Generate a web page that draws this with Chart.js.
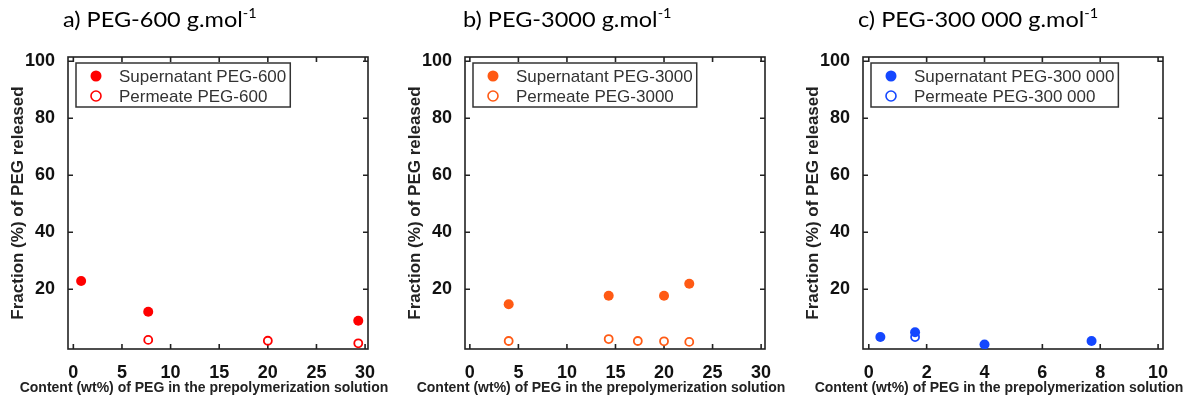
<!DOCTYPE html>
<html>
<head>
<meta charset="utf-8">
<script src="https://cdn.jsdelivr.net/npm/chart.js@4.4.1/dist/chart.umd.min.js"></script>
<style>
  html, body { margin:0; padding:0; background:#fff; }
  body { width:1196px; height:401px; position:relative; overflow:hidden; }
  .panel { position:absolute; top:0; width:400px; height:401px; }
  .title { position:absolute; top:6px; font-family:Lato, "Open Sans", sans-serif; font-size:21px; color:#000;
           white-space:nowrap; transform:scaleX(1.12); transform-origin:left top; line-height:26px; z-index:2; }
  .title sup { font-size:13px; vertical-align:9px; line-height:0; }
</style>
</head>
<body>
<div class="title" style="left:63px">a) PEG-600 g.mol<sup>-1</sup></div>
<div class="title" style="left:463px">b) PEG-3000 g.mol<sup>-1</sup></div>
<div class="title" style="left:858px">c) PEG-300 000 g.mol<sup>-1</sup></div>
<div class="panel" style="left:0px"><canvas id="ca" width="400" height="401"></canvas></div>
<div class="panel" style="left:397px"><canvas id="cb" width="400" height="401"></canvas></div>
<div class="panel" style="left:795px"><canvas id="cc" width="400" height="401"></canvas></div>
<script>
// ---- data ----
const Y_TICKS = [20, 40, 60, 80, 100];
const X_TICKS_AB = [0, 5, 10, 15, 20, 25, 30];
const X_TICKS_C = [0, 2, 4, 6, 8, 10];

const A_SUP_X = [0.8, 7.7, 29.3];
const A_SUP_Y = [22.9, 12.1, 8.9];
const A_PER_X = [7.7, 20.0, 29.3];
const A_PER_Y = [2.2, 1.9, 1.0];

const B_SUP_X = [4.0, 14.3, 20.0, 22.6];
const B_SUP_Y = [14.7, 17.7, 17.7, 21.9];
const B_PER_X = [4.0, 14.3, 17.3, 20.0, 22.6];
const B_PER_Y = [1.8, 2.5, 1.8, 1.7, 1.5];

const C_SUP_X = [0.4, 1.6, 4.0, 7.7];
const C_SUP_Y = [3.2, 4.9, 0.6, 1.8];
const C_PER_X = [1.6];
const C_PER_Y = [3.2];

const LABELS_A = ['Supernatant PEG-600', 'Permeate PEG-600'];
const LABELS_B = ['Supernatant PEG-3000', 'Permeate PEG-3000'];
const LABELS_C = ['Supernatant PEG-300 000', 'Permeate PEG-300 000'];

const X_TITLE = 'Content (wt%) of PEG in the prepolymerization solution';
const Y_TITLE = 'Fraction (%) of PEG released';

// ---- helpers ----
const FONT = '"Liberation Sans", Arial, sans-serif';
const pts = (xs, ys) => xs.map((x, i) => ({ x: x, y: ys[i] }));

const framePlugin = {
  id: 'frame',
  beforeDatasetsDraw(chart) {
    const { ctx, chartArea: a, scales } = chart;
    ctx.save();
    ctx.strokeStyle = '#222';
    ctx.lineWidth = 1.6;
    ctx.strokeRect(a.left, a.top, a.right - a.left, a.bottom - a.top);
    const L = 5;
    ctx.beginPath();
    scales.x.ticks.forEach(t => {
      const px = scales.x.getPixelForValue(t.value);
      ctx.moveTo(px, a.bottom); ctx.lineTo(px, a.bottom - L);
      ctx.moveTo(px, a.top); ctx.lineTo(px, a.top + L);
    });
    scales.y.ticks.forEach(t => {
      const py = scales.y.getPixelForValue(t.value);
      ctx.moveTo(a.left, py); ctx.lineTo(a.left + L, py);
      ctx.moveTo(a.right, py); ctx.lineTo(a.right - L, py);
    });
    ctx.stroke();
    ctx.restore();
  },
  afterDatasetsDraw(chart) {
    const { ctx, chartArea: a } = chart;
    const ds = chart.data.datasets;
    ctx.save();
    // legend box inside the plot
    ctx.font = '17px ' + FONT;
    const tw = Math.max(...ds.map(d => ctx.measureText(d.label).width));
    const bx = a.left + 8, by = a.top + 6, bw = tw + 47, bh = 44;
    ctx.fillStyle = '#fff';
    ctx.fillRect(bx, by, bw, bh);
    ctx.strokeStyle = '#333';
    ctx.lineWidth = 1.5;
    ctx.strokeRect(bx, by, bw, bh);
    ds.forEach((d, i) => {
      const cy = by + 13 + i * 20;
      const cx = bx + 20;
      ctx.beginPath();
      if (d.filled) {
        ctx.arc(cx, cy, 5.5, 0, Math.PI * 2);
        ctx.fillStyle = d.borderColor; ctx.fill();
      } else {
        ctx.arc(cx, cy, 5, 0, Math.PI * 2);
        ctx.fillStyle = '#fff'; ctx.fill();
        ctx.lineWidth = 1.6; ctx.strokeStyle = d.borderColor; ctx.stroke();
      }
      ctx.fillStyle = '#333';
      ctx.textBaseline = 'middle';
      ctx.textAlign = 'left';
      ctx.fillText(d.label, bx + 43, cy + 1);
    });
    // x-axis title (wider than the plot area)
    ctx.font = 'bold 14px ' + FONT;
    ctx.fillStyle = '#222';
    ctx.textAlign = 'center';
    ctx.textBaseline = 'middle';
    ctx.fillText(X_TITLE, (a.left + a.right) / 2 - 14, 388);
    ctx.restore();
  }
};

function makeChart(id, color, labels, supX, supY, perX, perY, xMin, xMax, xTicks) {
  return new Chart(document.getElementById(id), {
    type: 'scatter',
    data: {
      datasets: [
        { label: labels[0], data: pts(supX, supY), filled: true,
          backgroundColor: color, borderColor: color, pointRadius: 5, borderWidth: 0 },
        { label: labels[1], data: pts(perX, perY), filled: false,
          backgroundColor: '#fff', borderColor: color, pointRadius: 4, borderWidth: 1.8 }
      ]
    },
    options: {
      responsive: false,
      animation: false,
      devicePixelRatio: 1,
      layout: { padding: { top: 57, right: 32, left: 0, bottom: 0 } },
      plugins: { legend: { display: false }, tooltip: { enabled: false }, title: { display: false } },
      scales: {
        x: {
          type: 'linear', min: xMin, max: xMax,
          afterBuildTicks: s => { s.ticks = xTicks.map(v => ({ value: v })); },
          afterFit: s => { s.height = 52; },
          grid: { display: false }, border: { display: false },
          ticks: { padding: 5, color: '#111', font: { family: FONT, size: 18, weight: 'bold' } },
          title: { display: false }
        },
        y: {
          type: 'linear', min: -1, max: 101.5,
          afterBuildTicks: s => { s.ticks = Y_TICKS.map(v => ({ value: v })); },
          afterFit: s => { s.width = 68; },
          grid: { display: false }, border: { display: false },
          ticks: { padding: 5, color: '#111', font: { family: FONT, size: 18, weight: 'bold' } },
          title: { display: true, text: Y_TITLE, color: '#222', padding: { top: 8, bottom: 0 },
                   font: { family: FONT, size: 17, weight: 'bold' } }
        }
      }
    },
    plugins: [framePlugin]
  });
}

makeChart('ca', '#ff0000', LABELS_A, A_SUP_X, A_SUP_Y, A_PER_X, A_PER_Y, -0.55, 30.3, X_TICKS_AB);
makeChart('cb', '#ff5a14', LABELS_B, B_SUP_X, B_SUP_Y, B_PER_X, B_PER_Y, -0.5, 30.4, X_TICKS_AB);
makeChart('cc', '#1447ff', LABELS_C, C_SUP_X, C_SUP_Y, C_PER_X, C_PER_Y, -0.2, 10.17, X_TICKS_C);
</script>
</body>
</html>
